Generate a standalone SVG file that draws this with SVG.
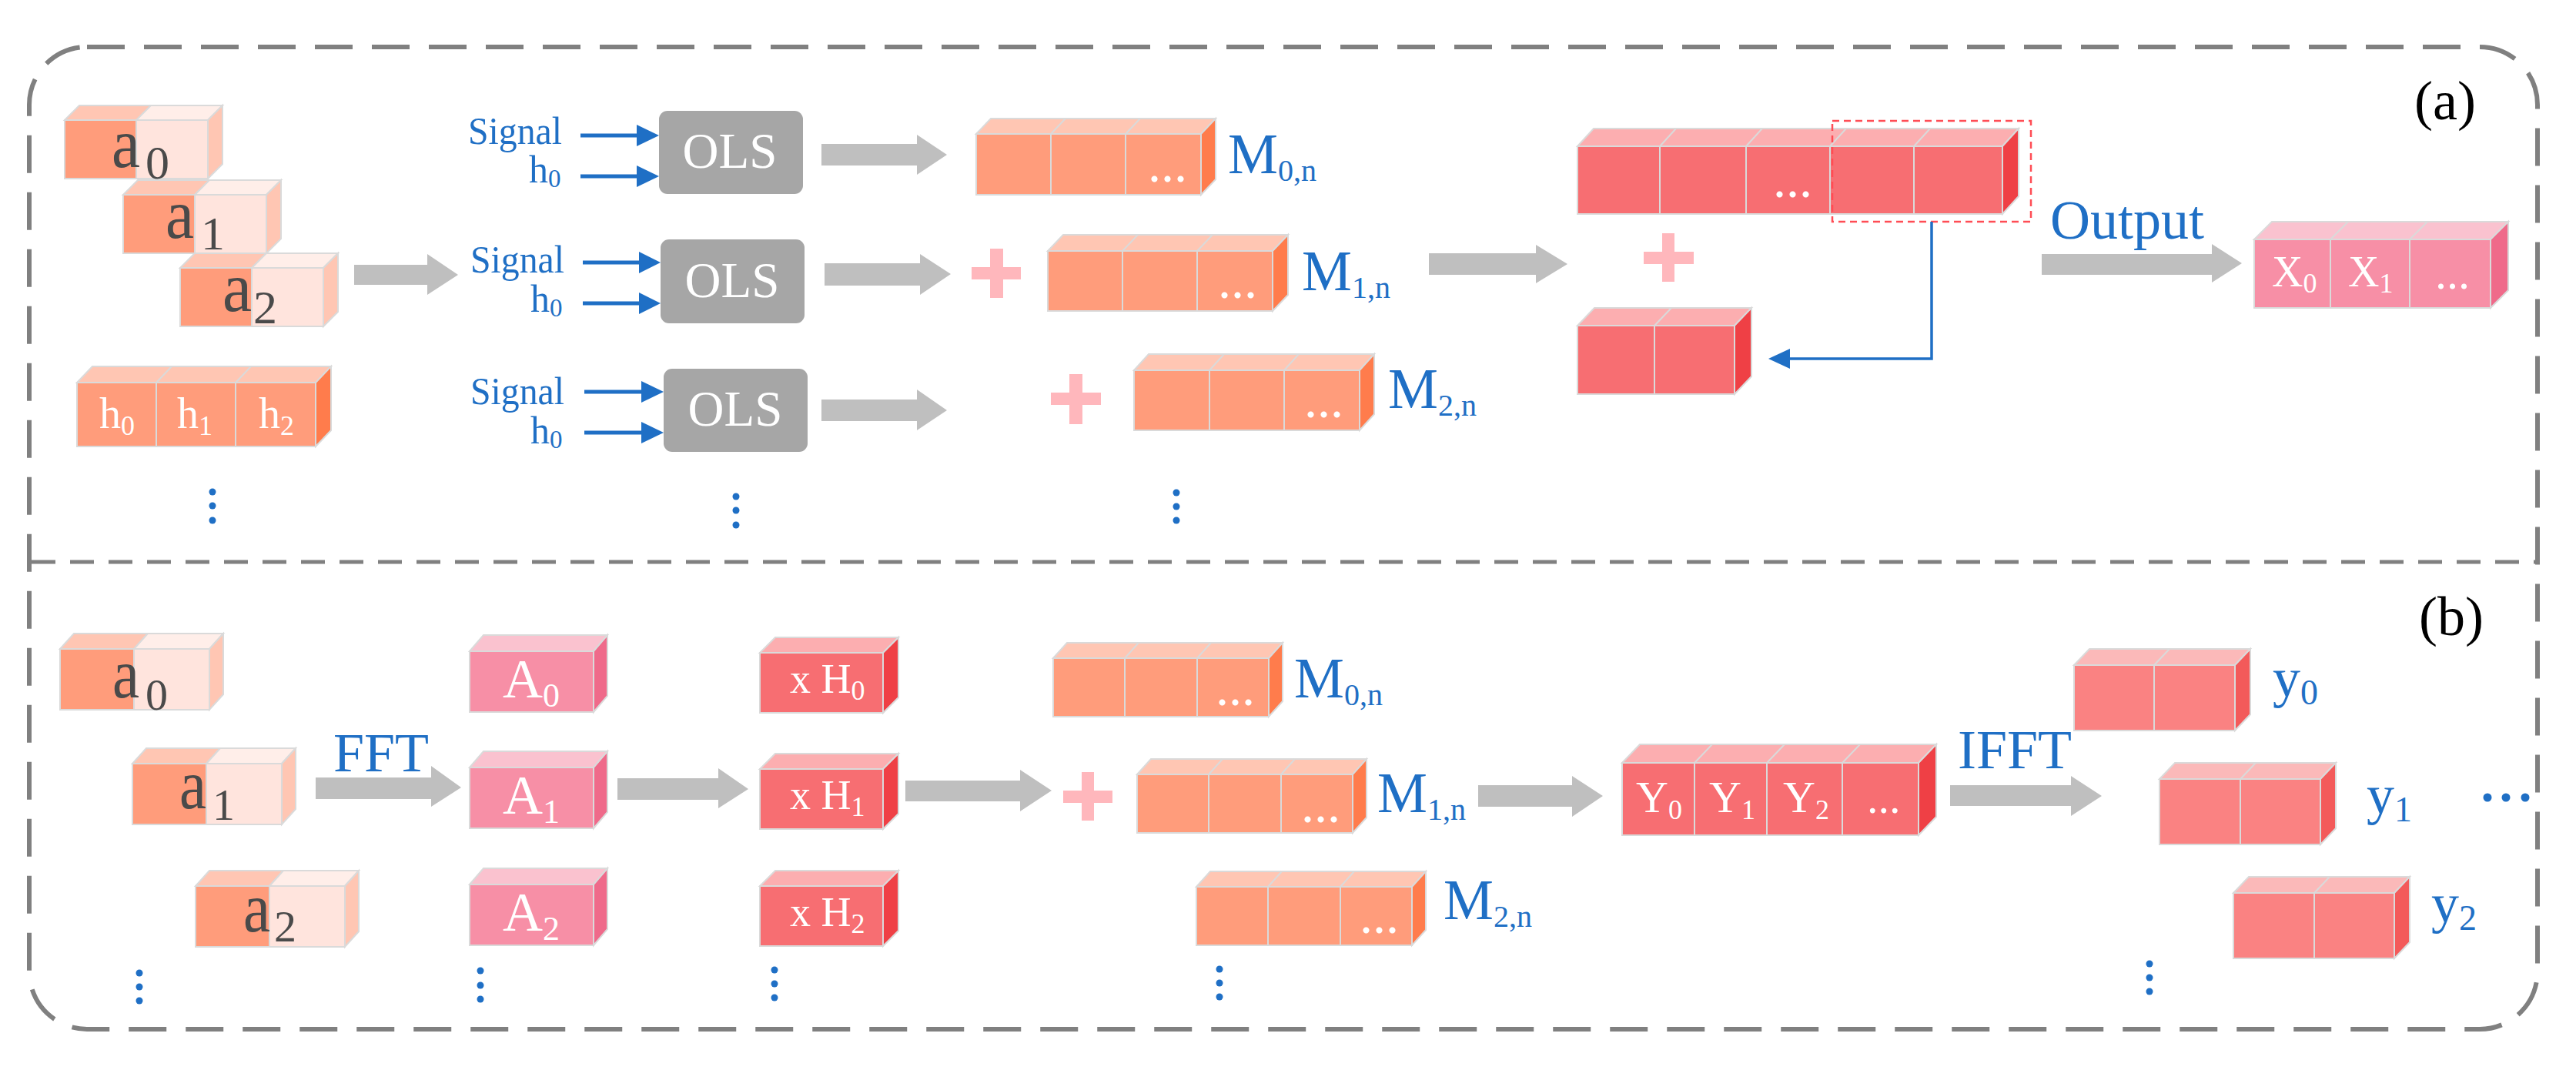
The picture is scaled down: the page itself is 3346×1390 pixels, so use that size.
<svg xmlns="http://www.w3.org/2000/svg" width="3346" height="1390" viewBox="0 0 3346 1390">
<style>
text{font-family:"Liberation Serif","Times New Roman",serif}
.blue{fill:#1f6fc5}
.wt{fill:#ffffff}
.dk{fill:#4a4a4a}
.of{fill:#ff9c7b}.ot{fill:#ffc6b3}.or{fill:#ff7c4c}
.lf{fill:#ffe4dd}.lt{fill:#ffeee9}
.pf{fill:#f78fa6}.pt{fill:#fac2cf}.pr{fill:#ef6a8a}
.rf{fill:#f76e72}.rt{fill:#fcaeb0}.rr{fill:#ef4045}
.yf{fill:#fa8282}.yt{fill:#fbb9b9}.yr{fill:#f35a5a}
.cube rect,.cube polygon{stroke:#dadada;stroke-width:2}
.div{stroke:#dadada;stroke-width:2}
.garrow{fill:#bfbfbf}
.ols{fill:#a6a6a6}
.plus{fill:#ffb7bc}
.bl{stroke:#1f6fc5;stroke-width:5;fill:none}
.bh{fill:#1f6fc5}
.dot{fill:#1f6fc5}
</style>

<g id="frame">
<rect x="38" y="61" width="3258" height="1276" rx="75" ry="75" fill="none" stroke="#808080" stroke-width="6" stroke-dasharray="49 25"/>
<line x1="41" y1="730" x2="3296" y2="730" stroke="#808080" stroke-width="5" stroke-dasharray="31 19"/>
<text x="3136" y="155" font-size="72" fill="#000">(a)</text>
<text x="3142" y="825" font-size="72" fill="#000">(b)</text>
</g>

<!-- ================= (a) ================= -->
<g id="a0" class="cube">
<rect x="84" y="156" width="93" height="76" class="of"/><rect x="177" y="156" width="93" height="76" class="lf"/>
<polygon points="84,156 103,137 196,137 177,156" class="ot"/><polygon points="177,156 196,137 289,137 270,156" class="lt"/>
<polygon points="270,156 289,137 289,213 270,232" class="ot"/>
<text font-size="92" class="dk"><tspan x="145" y="217" textLength="37" lengthAdjust="spacingAndGlyphs">a</tspan><tspan x="189" y="232" font-size="62">0</tspan></text>
</g>
<g id="a1" class="cube">
<rect x="160" y="253" width="93" height="76" class="of"/><rect x="253" y="253" width="93" height="76" class="lf"/>
<polygon points="160,253 179,234 272,234 253,253" class="ot"/><polygon points="253,253 272,234 365,234 346,253" class="lt"/>
<polygon points="346,253 365,234 365,310 346,329" class="ot"/>
<text font-size="90" class="dk"><tspan x="215" y="309" textLength="37" lengthAdjust="spacingAndGlyphs">a</tspan><tspan x="261" y="324" font-size="62">1</tspan></text>
</g>
<g id="a2" class="cube">
<rect x="234" y="348" width="93" height="76" class="of"/><rect x="327" y="348" width="93" height="76" class="lf"/>
<polygon points="234,348 253,329 346,329 327,348" class="ot"/><polygon points="327,348 346,329 439,329 420,348" class="lt"/>
<polygon points="420,348 439,329 439,405 420,424" class="ot"/>
<text font-size="92" class="dk"><tspan x="289" y="404" textLength="38" lengthAdjust="spacingAndGlyphs">a</tspan><tspan x="329" y="420" font-size="62">2</tspan></text>
</g>
<g id="hblock" class="cube">
<rect x="100" y="497" width="310" height="83" class="of"/>
<polygon points="100,497 120,476 430,476 410,497" class="ot"/>
<polygon points="410,497 430,476 430,559 410,580" class="or"/>
<line x1="203" y1="497" x2="203" y2="580" class="div"/><line x1="306" y1="497" x2="306" y2="580" class="div"/>
<line x1="203" y1="497" x2="223" y2="476" class="div"/><line x1="306" y1="497" x2="326" y2="476" class="div"/>
<text x="129" y="556" font-size="56" class="wt">h<tspan font-size="36" dy="9">0</tspan></text>
<text x="230" y="556" font-size="56" class="wt">h<tspan font-size="36" dy="9">1</tspan></text>
<text x="336" y="556" font-size="56" class="wt">h<tspan font-size="36" dy="9">2</tspan></text>
</g>
<g id="dotsA1"><circle cx="276" cy="639" r="4.5" class="dot"/><circle cx="276" cy="657" r="4.5" class="dot"/><circle cx="276" cy="676" r="4.5" class="dot"/></g>

<g id="inputs">
<text x="608" y="187" font-size="50" class="blue" textLength="122" lengthAdjust="spacingAndGlyphs">Signal</text>
<text x="687" y="237" font-size="50" class="blue">h<tspan font-size="33" dy="6">0</tspan></text>
<text x="611" y="354" font-size="50" class="blue" textLength="122" lengthAdjust="spacingAndGlyphs">Signal</text>
<text x="689" y="405" font-size="50" class="blue">h<tspan font-size="33" dy="6">0</tspan></text>
<text x="611" y="525" font-size="50" class="blue" textLength="122" lengthAdjust="spacingAndGlyphs">Signal</text>
<text x="689" y="576" font-size="50" class="blue">h<tspan font-size="33" dy="6">0</tspan></text>
</g>

<g id="ols0"><rect x="856" y="144" width="187" height="108" rx="11" class="ols"/><text x="948" y="218" font-size="65" class="wt" text-anchor="middle">OLS</text></g>
<g id="ols1"><rect x="858" y="311" width="187" height="109" rx="11" class="ols"/><text x="951" y="386" font-size="65" class="wt" text-anchor="middle">OLS</text></g>
<g id="ols2"><rect x="862" y="479" width="187" height="108" rx="11" class="ols"/><text x="955" y="553" font-size="65" class="wt" text-anchor="middle">OLS</text></g>
<g id="dotsA2"><circle cx="956" cy="645" r="4.5" class="dot"/><circle cx="956" cy="663" r="4.5" class="dot"/><circle cx="956" cy="682" r="4.5" class="dot"/></g>

<g id="M0a" class="cube">
<rect x="1268" y="174" width="292" height="79" class="of"/>
<polygon points="1268,174 1287,154 1579,154 1560,174" class="ot"/>
<polygon points="1560,174 1579,154 1579,233 1560,253" class="or"/>
<line x1="1365" y1="174" x2="1365" y2="253" class="div"/><line x1="1462" y1="174" x2="1462" y2="253" class="div"/>
<line x1="1365" y1="174" x2="1384" y2="154" class="div"/><line x1="1462" y1="174" x2="1481" y2="154" class="div"/>
<text x="1491" y="236" font-size="68" class="wt">...</text>
<text x="1595" y="225" font-size="73" class="blue">M<tspan font-size="40" dy="10">0,n</tspan></text>
</g>
<g id="M1a" class="cube">
<rect x="1361" y="326" width="292" height="78" class="of"/>
<polygon points="1361,326 1381,305 1673,305 1653,326" class="ot"/>
<polygon points="1653,326 1673,305 1673,383 1653,404" class="or"/>
<line x1="1458" y1="326" x2="1458" y2="404" class="div"/><line x1="1555" y1="326" x2="1555" y2="404" class="div"/>
<line x1="1458" y1="326" x2="1478" y2="305" class="div"/><line x1="1555" y1="326" x2="1575" y2="305" class="div"/>
<text x="1582" y="387" font-size="68" class="wt">...</text>
<text x="1691" y="377" font-size="73" class="blue">M<tspan font-size="40" dy="10">1,n</tspan></text>
</g>
<g id="M2a" class="cube">
<rect x="1473" y="481" width="293" height="78" class="of"/>
<polygon points="1473,481 1492,460 1785,460 1766,481" class="ot"/>
<polygon points="1766,481 1785,460 1785,538 1766,559" class="or"/>
<line x1="1571" y1="481" x2="1571" y2="559" class="div"/><line x1="1668" y1="481" x2="1668" y2="559" class="div"/>
<line x1="1571" y1="481" x2="1590" y2="460" class="div"/><line x1="1668" y1="481" x2="1687" y2="460" class="div"/>
<text x="1694" y="542" font-size="68" class="wt">...</text>
<text x="1803" y="530" font-size="73" class="blue">M<tspan font-size="40" dy="10">2,n</tspan></text>
</g>
<g id="dotsA3"><circle cx="1528" cy="640" r="4.5" class="dot"/><circle cx="1528" cy="658" r="4.5" class="dot"/><circle cx="1528" cy="676" r="4.5" class="dot"/></g>
<g id="plusA1"><rect x="1286" y="323" width="17" height="64" class="plus"/><rect x="1262" y="347" width="64" height="16" class="plus"/></g>
<g id="plusA2"><rect x="1389" y="486" width="17" height="65" class="plus"/><rect x="1365" y="510" width="65" height="16" class="plus"/></g>

<g id="sumBlock" class="cube">
<rect x="2049" y="190" width="552" height="88" class="rf"/>
<polygon points="2049,190 2070,167 2622,167 2601,190" class="rt"/>
<polygon points="2601,190 2622,167 2622,255 2601,278" class="rr"/>
<line x1="2156" y1="190" x2="2156" y2="278" class="div"/><line x1="2268" y1="190" x2="2268" y2="278" class="div"/><line x1="2377" y1="190" x2="2377" y2="278" class="div"/><line x1="2486" y1="190" x2="2486" y2="278" class="div"/>
<line x1="2156" y1="190" x2="2177" y2="167" class="div"/><line x1="2268" y1="190" x2="2289" y2="167" class="div"/><line x1="2377" y1="190" x2="2398" y2="167" class="div"/><line x1="2486" y1="190" x2="2507" y2="167" class="div"/>
<text x="2303" y="256" font-size="68" class="wt">...</text>
</g>
<g id="plusA3"><rect x="2159" y="303" width="16" height="63" class="plus"/><rect x="2135" y="327" width="65" height="16" class="plus"/></g>
<g id="tailBlock" class="cube">
<rect x="2049" y="423" width="204" height="89" class="rf"/>
<polygon points="2049,423 2071,400 2275,400 2253,423" class="rt"/>
<polygon points="2253,423 2275,400 2275,489 2253,512" class="rr"/>
<line x1="2149" y1="423" x2="2149" y2="512" class="div"/><line x1="2149" y1="423" x2="2171" y2="400" class="div"/>
</g>
<g id="overlapBox"><rect x="2380" y="157" width="258" height="131" fill="none" stroke="#ff4d55" stroke-width="2.5" stroke-dasharray="9 6"/></g>

<g id="Xblock" class="cube">
<rect x="2928" y="311" width="307" height="89" class="pf"/>
<polygon points="2928,311 2951,288 3258,288 3235,311" class="pt"/>
<polygon points="3235,311 3258,288 3258,377 3235,400" class="pr"/>
<line x1="3027" y1="311" x2="3027" y2="400" class="div"/><line x1="3130" y1="311" x2="3130" y2="400" class="div"/>
<line x1="3027" y1="311" x2="3050" y2="288" class="div"/><line x1="3130" y1="311" x2="3153" y2="288" class="div"/>
<text x="2951" y="372" font-size="56" class="wt">X<tspan font-size="36" dy="8">0</tspan></text>
<text x="3050" y="372" font-size="56" class="wt">X<tspan font-size="36" dy="8">1</tspan></text>
<text x="3163" y="375" font-size="60" class="wt">...</text>
</g>
<text x="2663" y="310" font-size="72" class="blue">Output</text>

<!-- ================= (b) ================= -->
<g id="a0b" class="cube">
<rect x="78" y="843" width="96" height="79" class="of"/><rect x="174" y="843" width="98" height="79" class="lf"/>
<polygon points="78,843 96,823 192,823 174,843" class="ot"/><polygon points="174,843 192,823 290,823 272,843" class="lt"/>
<polygon points="272,843 290,823 290,902 272,922" class="ot"/>
<text font-size="90" class="dk"><tspan x="146" y="906" textLength="35" lengthAdjust="spacingAndGlyphs">a</tspan><tspan x="189" y="922" font-size="58">0</tspan></text>
</g>
<g id="a1b" class="cube">
<rect x="172" y="992" width="96" height="79" class="of"/><rect x="268" y="992" width="98" height="79" class="lf"/>
<polygon points="172,992 190,972 286,972 268,992" class="ot"/><polygon points="268,992 286,972 384,972 366,992" class="lt"/>
<polygon points="366,992 384,972 384,1051 366,1071" class="ot"/>
<text font-size="90" class="dk"><tspan x="233" y="1050" textLength="35" lengthAdjust="spacingAndGlyphs">a</tspan><tspan x="276" y="1065" font-size="58">1</tspan></text>
</g>
<g id="a2b" class="cube">
<rect x="254" y="1151" width="96" height="79" class="of"/><rect x="350" y="1151" width="98" height="79" class="lf"/>
<polygon points="254,1151 272,1131 368,1131 350,1151" class="ot"/><polygon points="350,1151 368,1131 466,1131 448,1151" class="lt"/>
<polygon points="448,1151 466,1131 466,1210 448,1230" class="ot"/>
<text font-size="90" class="dk"><tspan x="316" y="1210" textLength="35" lengthAdjust="spacingAndGlyphs">a</tspan><tspan x="356" y="1223" font-size="58">2</tspan></text>
</g>
<g id="dotsB1"><circle cx="181" cy="1264" r="4.5" class="dot"/><circle cx="181" cy="1282" r="4.5" class="dot"/><circle cx="181" cy="1300" r="4.5" class="dot"/></g>
<text x="433" y="1002" font-size="72" class="blue">FFT</text>

<g id="A0" class="cube">
<rect x="610" y="846" width="161" height="79" class="pf"/>
<polygon points="610,846 628,825 789,825 771,846" class="pt"/>
<polygon points="771,846 789,825 789,904 771,925" class="pr"/>
<text x="653" y="906" font-size="72" class="wt">A<tspan font-size="44" dy="12">0</tspan></text>
</g>
<g id="A1" class="cube">
<rect x="610" y="997" width="161" height="79" class="pf"/>
<polygon points="610,997 628,976 789,976 771,997" class="pt"/>
<polygon points="771,997 789,976 789,1055 771,1076" class="pr"/>
<text x="653" y="1057" font-size="72" class="wt">A<tspan font-size="44" dy="12">1</tspan></text>
</g>
<g id="A2" class="cube">
<rect x="610" y="1149" width="161" height="79" class="pf"/>
<polygon points="610,1149 628,1128 789,1128 771,1149" class="pt"/>
<polygon points="771,1149 789,1128 789,1207 771,1228" class="pr"/>
<text x="653" y="1209" font-size="72" class="wt">A<tspan font-size="44" dy="12">2</tspan></text>
</g>
<g id="dotsB2"><circle cx="624" cy="1261" r="4.5" class="dot"/><circle cx="624" cy="1280" r="4.5" class="dot"/><circle cx="624" cy="1298" r="4.5" class="dot"/></g>

<g id="H0" class="cube">
<rect x="987" y="848" width="160" height="78" class="rf"/>
<polygon points="987,848 1007,828 1167,828 1147,848" class="rt"/>
<polygon points="1147,848 1167,828 1167,906 1147,926" class="rr"/>
<text x="1026" y="900" font-size="54" class="wt">x H<tspan font-size="36" dy="9">0</tspan></text>
</g>
<g id="H1" class="cube">
<rect x="987" y="999" width="160" height="78" class="rf"/>
<polygon points="987,999 1007,979 1167,979 1147,999" class="rt"/>
<polygon points="1147,999 1167,979 1167,1057 1147,1077" class="rr"/>
<text x="1026" y="1051" font-size="54" class="wt">x H<tspan font-size="36" dy="9">1</tspan></text>
</g>
<g id="H2" class="cube">
<rect x="987" y="1151" width="160" height="78" class="rf"/>
<polygon points="987,1151 1007,1131 1167,1131 1147,1151" class="rt"/>
<polygon points="1147,1151 1167,1131 1167,1209 1147,1229" class="rr"/>
<text x="1026" y="1203" font-size="54" class="wt">x H<tspan font-size="36" dy="9">2</tspan></text>
</g>
<g id="dotsB3"><circle cx="1006" cy="1260" r="4.5" class="dot"/><circle cx="1006" cy="1278" r="4.5" class="dot"/><circle cx="1006" cy="1296" r="4.5" class="dot"/></g>

<g id="plusB"><rect x="1405" y="1003" width="16" height="63" class="plus"/><rect x="1381" y="1027" width="64" height="16" class="plus"/></g>

<g id="M0b" class="cube">
<rect x="1368" y="855" width="280" height="76" class="of"/>
<polygon points="1368,855 1386,835 1666,835 1648,855" class="ot"/>
<polygon points="1648,855 1666,835 1666,911 1648,931" class="or"/>
<line x1="1461" y1="855" x2="1461" y2="931" class="div"/><line x1="1555" y1="855" x2="1555" y2="931" class="div"/>
<line x1="1461" y1="855" x2="1479" y2="835" class="div"/><line x1="1555" y1="855" x2="1573" y2="835" class="div"/>
<text x="1579" y="916" font-size="68" class="wt">...</text>
<text x="1681" y="906" font-size="73" class="blue">M<tspan font-size="40" dy="10">0,n</tspan></text>
</g>
<g id="M1b" class="cube">
<rect x="1477" y="1006" width="280" height="76" class="of"/>
<polygon points="1477,1006 1495,986 1775,986 1757,1006" class="ot"/>
<polygon points="1757,1006 1775,986 1775,1062 1757,1082" class="or"/>
<line x1="1570" y1="1006" x2="1570" y2="1082" class="div"/><line x1="1664" y1="1006" x2="1664" y2="1082" class="div"/>
<line x1="1570" y1="1006" x2="1588" y2="986" class="div"/><line x1="1664" y1="1006" x2="1682" y2="986" class="div"/>
<text x="1690" y="1068" font-size="68" class="wt">...</text>
<text x="1789" y="1055" font-size="73" class="blue">M<tspan font-size="40" dy="10">1,n</tspan></text>
</g>
<g id="M2b" class="cube">
<rect x="1554" y="1152" width="280" height="76" class="of"/>
<polygon points="1554,1152 1572,1132 1852,1132 1834,1152" class="ot"/>
<polygon points="1834,1152 1852,1132 1852,1208 1834,1228" class="or"/>
<line x1="1647" y1="1152" x2="1647" y2="1228" class="div"/><line x1="1741" y1="1152" x2="1741" y2="1228" class="div"/>
<line x1="1647" y1="1152" x2="1665" y2="1132" class="div"/><line x1="1741" y1="1152" x2="1759" y2="1132" class="div"/>
<text x="1766" y="1212" font-size="68" class="wt">...</text>
<text x="1875" y="1194" font-size="73" class="blue">M<tspan font-size="40" dy="10">2,n</tspan></text>
</g>
<g id="dotsB4"><circle cx="1584" cy="1259" r="4.5" class="dot"/><circle cx="1584" cy="1277" r="4.5" class="dot"/><circle cx="1584" cy="1295" r="4.5" class="dot"/></g>

<g id="Yblock" class="cube">
<rect x="2107" y="991" width="385" height="94" class="rf"/>
<polygon points="2107,991 2130,967 2515,967 2492,991" class="rt"/>
<polygon points="2492,991 2515,967 2515,1061 2492,1085" class="rr"/>
<line x1="2201" y1="991" x2="2201" y2="1085" class="div"/><line x1="2295" y1="991" x2="2295" y2="1085" class="div"/><line x1="2393" y1="991" x2="2393" y2="1085" class="div"/>
<line x1="2201" y1="991" x2="2224" y2="967" class="div"/><line x1="2295" y1="991" x2="2318" y2="967" class="div"/><line x1="2393" y1="991" x2="2416" y2="967" class="div"/>
<text x="2125" y="1055" font-size="58" class="wt">Y<tspan font-size="36" dy="9">0</tspan></text>
<text x="2220" y="1055" font-size="58" class="wt">Y<tspan font-size="36" dy="9">1</tspan></text>
<text x="2316" y="1055" font-size="58" class="wt">Y<tspan font-size="36" dy="9">2</tspan></text>
<text x="2425" y="1056" font-size="58" class="wt">...</text>
</g>
<text x="2543" y="998" font-size="72" class="blue">IFFT</text>

<g id="y0" class="cube">
<rect x="2694" y="864" width="209" height="85" class="yf"/>
<polygon points="2694,864 2714,843 2923,843 2903,864" class="yt"/>
<polygon points="2903,864 2923,843 2923,928 2903,949" class="yr"/>
<line x1="2798" y1="864" x2="2798" y2="949" class="div"/><line x1="2798" y1="864" x2="2818" y2="843" class="div"/>
<text x="2952" y="905" font-size="72" class="blue">y<tspan font-size="46" dy="10">0</tspan></text>
</g>
<g id="y1" class="cube">
<rect x="2805" y="1012" width="209" height="85" class="yf"/>
<polygon points="2805,1012 2825,991 3034,991 3014,1012" class="yt"/>
<polygon points="3014,1012 3034,991 3034,1076 3014,1097" class="yr"/>
<line x1="2910" y1="1012" x2="2910" y2="1097" class="div"/><line x1="2910" y1="1012" x2="2930" y2="991" class="div"/>
<text x="3074" y="1057" font-size="72" class="blue">y<tspan font-size="46" dy="10">1</tspan></text>
</g>
<g id="y2" class="cube">
<rect x="2901" y="1160" width="209" height="85" class="yf"/>
<polygon points="2901,1160 2921,1139 3130,1139 3110,1160" class="yt"/>
<polygon points="3110,1160 3130,1139 3130,1224 3110,1245" class="yr"/>
<line x1="3006" y1="1160" x2="3006" y2="1245" class="div"/><line x1="3006" y1="1160" x2="3026" y2="1139" class="div"/>
<text x="3158" y="1198" font-size="72" class="blue">y<tspan font-size="46" dy="10">2</tspan></text>
</g>
<g id="dotsB5"><circle cx="2792" cy="1252" r="4.5" class="dot"/><circle cx="2792" cy="1270" r="4.5" class="dot"/><circle cx="2792" cy="1288" r="4.5" class="dot"/></g>
<g id="dotsH"><circle cx="3231" cy="1036" r="5.5" class="dot"/><circle cx="3255" cy="1036" r="5.5" class="dot"/><circle cx="3280" cy="1036" r="5.5" class="dot"/></g>

<!-- ================= connectors ================= -->
<g id="connectors">
<polygon class="garrow" points="460,344 555,344 555,330 595,357 555,383 555,370 460,370"/>
<polygon class="garrow" points="1067,187 1191,187 1191,175 1230,201 1191,227 1191,215 1067,215"/>
<polygon class="garrow" points="1071,342 1195,342 1195,330 1235,356 1195,383 1195,371 1071,371"/>
<polygon class="garrow" points="1067,519 1191,519 1191,506 1230,533 1191,559 1191,547 1067,547"/>
<polygon class="garrow" points="1856,329 1995,329 1995,318 2036,343 1995,368 1995,357 1856,357"/>
<polygon class="garrow" points="2652,330 2873,330 2873,317 2912,342 2873,367 2873,357 2652,357"/>
<polygon class="garrow" points="410,1010 560,1010 560,995 599,1023 560,1048 560,1038 410,1038"/>
<polygon class="garrow" points="802,1011 933,1011 933,998 972,1025 933,1050 933,1039 802,1039"/>
<polygon class="garrow" points="1176,1014 1325,1014 1325,1000 1366,1027 1325,1054 1325,1041 1176,1041"/>
<polygon class="garrow" points="1920,1020 2042,1020 2042,1008 2082,1034 2042,1061 2042,1048 1920,1048"/>
<polygon class="garrow" points="2533,1020 2690,1020 2690,1008 2730,1034 2690,1060 2690,1047 2533,1047"/>

<line x1="754" y1="176" x2="830" y2="176" class="bl"/><polygon points="827,162 856,176 827,190" class="bh"/>
<line x1="754" y1="229" x2="830" y2="229" class="bl"/><polygon points="827,215 856,229 827,243" class="bh"/>
<line x1="757" y1="341" x2="833" y2="341" class="bl"/><polygon points="830,327 858,341 830,355" class="bh"/>
<line x1="757" y1="394" x2="833" y2="394" class="bl"/><polygon points="830,380 858,394 830,408" class="bh"/>
<line x1="759" y1="509" x2="836" y2="509" class="bl"/><polygon points="833,495 862,509 833,523" class="bh"/>
<line x1="759" y1="562" x2="836" y2="562" class="bl"/><polygon points="833,548 862,562 833,576" class="bh"/>

<polyline points="2509,288 2509,466 2320,466" fill="none" stroke="#1f6fc5" stroke-width="3.5"/>
<polygon points="2325,453 2297,466 2325,479" class="bh"/>
</g>
</svg>
